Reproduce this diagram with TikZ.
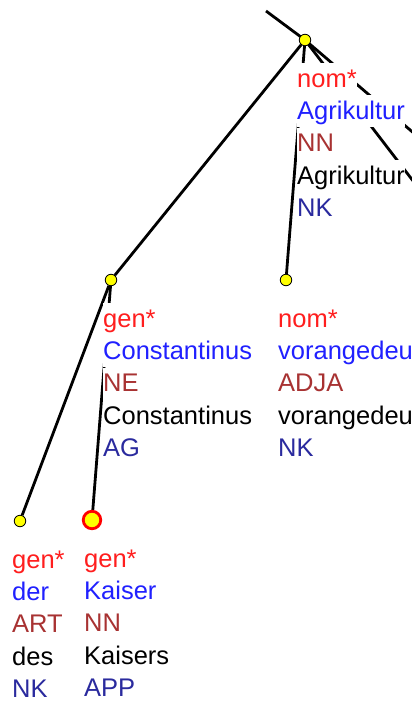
\documentclass[tikz,border=0pt]{standalone}
\usepackage{fontspec}
\setmainfont{Liberation Sans}
\usetikzlibrary{positioning}
\definecolor{casered}{HTML}{FF1E1E}
\definecolor{lemmablue}{HTML}{2020FF}
\definecolor{posbrown}{HTML}{A83232}
\definecolor{labelblue}{HTML}{2A2A9E}
\definecolor{dotyellow}{HTML}{FFFF00}
\pgfdeclarelayer{back}
\pgfsetlayers{back,main}

\tikzset{
  dot/.style={circle, fill=dotyellow, draw=black, line width=0.8pt,
              inner sep=0pt, minimum size=11.5pt},
  headdot/.style={dot, draw=red, line width=2.8pt, minimum size=17.5pt},
  row/.style={fill=white, inner sep=0pt, text height=24pt, text depth=8pt,
              font=\fontsize{25.5}{32}\selectfont},
  edge/.style={line width=2.8pt, draw=black},
}

% five rows of text hanging under a dot
\newcommand{\tokenrows}[6]{%
  \node[row, text=casered, anchor=base west] (#1-case) at ([shift={(-8,47)}]#1.center) {#2};
  \node[row, text=lemmablue, anchor=north west] (#1-lemma) at (#1-case.south west) {#3};
  \node[row, text=posbrown, anchor=north west] (#1-pos) at (#1-lemma.south west) {#4};
  \node[row, text=black, anchor=north west] (#1-word) at (#1-pos.south west) {#5};
  \node[row, text=labelblue, anchor=north west] (#1-label) at (#1-word.south west) {#6};
}

\begin{document}
\begin{tikzpicture}[x=1pt, y=-1pt]
  \useasboundingbox (0,0) rectangle (412,704);
  \clip (0,0) rectangle (412,704);

  % dots
  \node[dot] (agri) at (305,40) {};
  \node[dot] (const) at (111,280) {};
  \node[dot] (vor) at (286,280) {};
  \node[dot] (der) at (20,521) {};
  \node[headdot] (kaiser) at (92,520) {};

  \coordinate (up) at (266,11);
  \coordinate (outA) at (430,147);
  \coordinate (outB) at (430,203);

  % text
  \tokenrows{agri}{nom*}{Agrikultur}{NN}{Agrikultur}{NK}
  \tokenrows{const}{gen*}{Constantinus}{NE}{Constantinus}{AG}
  \tokenrows{vor}{nom*}{vorangedeu}{ADJA}{vorangedeu}{NK}
  \tokenrows{der}{gen*}{der}{ART}{des}{NK}
  \tokenrows{kaiser}{gen*}{Kaiser}{NN}{Kaisers}{APP}

  % edges
  \begin{pgfonlayer}{back}
    \draw[edge] (up) -- (agri.center);
    \draw[edge] (agri.center) -- (outA);
    \draw[edge] (agri.center) -- (outB);
    \draw[edge] (agri) -- (const);
    \draw[edge] (agri) -- (vor);
    \draw[edge] (der) -- (const);
    \draw[edge] (kaiser) -- (const);
  \end{pgfonlayer}
\end{tikzpicture}
\end{document}
